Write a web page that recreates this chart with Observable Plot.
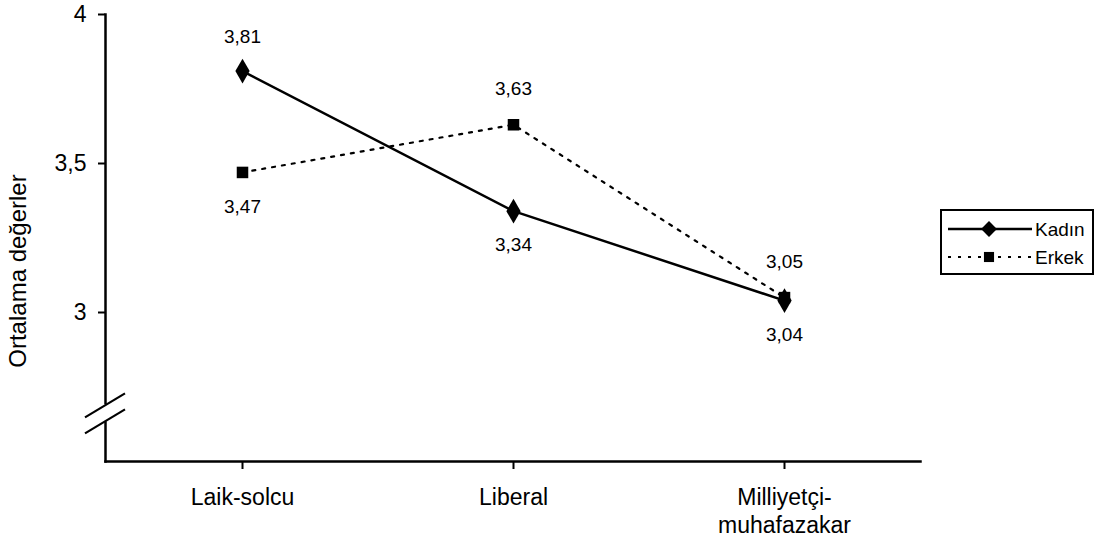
<!DOCTYPE html>
<html>
<head>
<meta charset="utf-8">
<script src="https://cdn.jsdelivr.net/npm/d3@7"></script>
<script src="https://cdn.jsdelivr.net/npm/@observablehq/plot@0.6"></script>
<style>
  html, body { margin: 0; padding: 0; background: #fff; }
  #chart { position: relative; width: 1103px; height: 553px; }
</style>
</head>
<body>
<div id="chart"></div>
<script>
// ---- data ----
const categories = ["Laik-solcu", "Liberal", "Milliyetçi-muhafazakar"];
const categoryLabels = ["Laik-solcu", "Liberal", "Milliyetçi-\nmuhafazakar"];
const kadinValues = [3.81, 3.34, 3.04];
const erkekValues = [3.47, 3.63, 3.05];
const yTicks = [3, 3.5, 4];
const seriesNames = ["Kadın", "Erkek"];
const yLabel = "Ortalama değerler";

const kadin = categories.map((c, i) => ({cat: c, value: kadinValues[i], other: erkekValues[i]}));
const erkek = categories.map((c, i) => ({cat: c, value: erkekValues[i], other: kadinValues[i]}));
const fmt = v => d3.format(".2f")(v).replace(".", ",");
const labelMap = new Map(categories.map((c, i) => [c, categoryLabels[i]]));
const above = d => d.value > d.other;
const below = d => d.value <= d.other;

const FONT = "Liberation Sans, Arial, sans-serif";
const valueText = (data, filter, dy) => Plot.text(data, {
  x: "cat", y: "value", text: d => fmt(d.value), filter, dy, fontSize: 19
});

const plot = Plot.plot({
  width: 1103,
  height: 553,
  marginTop: 14,
  marginBottom: 92,
  marginLeft: 105,
  marginRight: 183,
  style: {fontFamily: FONT, color: "#000", background: "#fff", overflow: "visible"},
  x: {type: "point", domain: categories, padding: 0.5},
  y: {domain: [2.5, 4]},
  marks: [
    Plot.frame({anchor: "left", strokeWidth: 2.5}),
    Plot.frame({anchor: "bottom", strokeWidth: 2.5}),
    Plot.axisY({
      ticks: yTicks,
      tickFormat: d => String(d).replace(".", ","),
      tickSize: 7, tickPadding: 12, fontSize: 23, strokeWidth: 2, label: null
    }),
    Plot.text([yLabel], {frameAnchor: "left", textAnchor: "middle", rotate: -90, dx: -87, dy: 33, fontSize: 24}),
    Plot.axisX({
      tickFormat: d => labelMap.get(d),
      tickSize: 8, tickPadding: 16, fontSize: 23, strokeWidth: 2,
      label: null, lineHeight: 1.22
    }),
    Plot.line(kadin, {x: "cat", y: "value", stroke: "#000", strokeWidth: 2.5}),
    Plot.line(erkek, {x: "cat", y: "value", stroke: "#000", strokeWidth: 2.2, strokeDasharray: "3,7"}),
    Plot.dot(kadin, {x: "cat", y: "value", symbol: "diamond", r: 7.5, fill: "#000"}),
    Plot.dot(erkek, {x: "cat", y: "value", symbol: "square", r: 6.5, fill: "#000"}),
    valueText(kadin, above, -34),
    valueText(kadin, below, 34),
    valueText(erkek, above, -36),
    valueText(erkek, below, 34)
  ]
});

document.getElementById("chart").appendChild(plot);

// ---- axis break and legend (decoration, positioned from the scales) ----
const svg = d3.select(plot);
const ys = plot.scale("y");
const x0 = 105;
const yb = ys.apply(2.66);
svg.append("rect").attr("x", x0 - 4).attr("y", yb - 9).attr("width", 8).attr("height", 17).attr("fill", "#fff");
[-8, 8].forEach(off => {
  svg.append("line")
    .attr("x1", x0 - 20).attr("y1", yb + off + 12)
    .attr("x2", x0 + 20).attr("y2", yb + off - 12)
    .attr("stroke", "#000").attr("stroke-width", 2.2);
});

const lg = svg.append("g").attr("transform", "translate(941,210)");
lg.append("rect").attr("width", 152).attr("height", 64)
  .attr("fill", "#fff").attr("stroke", "#000").attr("stroke-width", 2);
const rows = [
  {name: seriesNames[0], y: 19, dash: null, sym: d3.symbolDiamond2, w: 2.5, size: 160},
  {name: seriesNames[1], y: 47, dash: "3,7", sym: d3.symbolSquare2, w: 2.2, size: 130}
];
rows.forEach(r => {
  lg.append("line").attr("x1", 7).attr("x2", 91).attr("y1", r.y).attr("y2", r.y)
    .attr("stroke", "#000").attr("stroke-width", r.w).attr("stroke-dasharray", r.dash);
  lg.append("path").attr("transform", `translate(48,${r.y})`)
    .attr("d", d3.symbol(r.sym, r.size)()).attr("fill", "#000");
  lg.append("text").attr("x", 94).attr("y", r.y).attr("dy", "0.35em")
    .attr("text-anchor", "start")
    .attr("font-size", 19).attr("font-family", FONT).text(r.name);
});
</script>
</body>
</html>
